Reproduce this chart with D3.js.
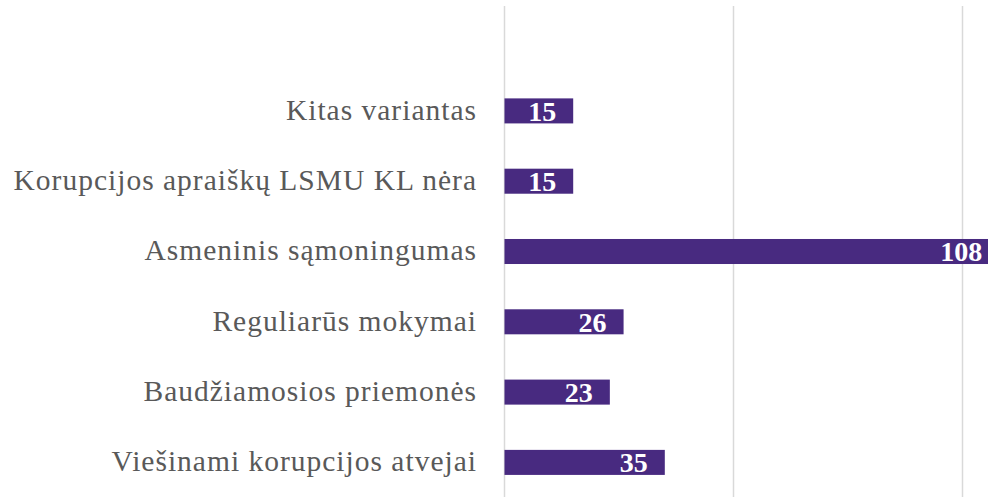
<!DOCTYPE html>
<html>
<head>
<meta charset="utf-8">
<script src="https://cdn.jsdelivr.net/npm/d3@7"></script>
<style>
	html, body { margin: 0; padding: 0; background: #fff; }
	svg { display: block; }
</style>
</head>
<body>
<div id="chart"></div>
<script>
// categories top to bottom
const categories = [
	'Kitas variantas',
	'Korupcijos apraiškų LSMU KL nėra',
	'Asmeninis sąmoningumas',
	'Reguliarūs mokymai',
	'Baudžiamosios priemonės',
	'Viešinami korupcijos atvejai'
];
const values = [15, 15, 108, 26, 23, 35];
const xTicks = [0, 50, 100];

const width = 988,
	height = 497;

const svg = d3.select('#chart')
	.append('svg')
	.attr('width', width)
	.attr('height', height);

// ----------------------------------
// SCALES
// ----------------------------------

const x = d3.scaleLinear()
	.domain([0, 100])
	.range([504.5, 962.5]);

const y = d3.scaleBand()
	.domain(categories)
	.range([75.75, 497.55])
	.paddingInner(0.644)
	.paddingOuter(0.322);

// gridlines
svg.append('g')
	.attr('class', 'grid')
	.selectAll('line')
	.data(xTicks)
	.enter()
	.append('line')
	.attr('x1', d => x(d))
	.attr('x2', d => x(d))
	.attr('y1', 6)
	.attr('y2', height)
	.attr('stroke', '#d9d9d9')
	.attr('stroke-width', 1.5);

// ----------------------------------
// BARS
// ----------------------------------

const data = categories.map((c, i) => ({ x: c, y: values[i] }));

const row = svg.append('g')
	.selectAll('g')
	.data(data)
	.enter()
	.append('g')
	.attr('transform', d => `translate(0,${y(d.x)})`);

row.append('rect')
	.attr('x', x(0))
	.attr('y', 0)
	.attr('width', d => x(d.y) - x(0))
	.attr('height', y.bandwidth())
	.attr('fill', '#482a80');

row.append('text')
	.attr('x', d => x(d.y) - 17)
	.attr('y', y.bandwidth() / 2)
	.attr('dy', '0.35em')
	.attr('text-anchor', 'end')
	.style('font-family', '"Liberation Serif", serif')
	.style('font-weight', 'bold')
	.style('font-size', '28px')
	.style('fill', '#fff')
	.text(d => d.y);

// category labels
row.append('text')
	.attr('x', 477)
	.attr('y', y.bandwidth() / 2)
	.attr('dy', '0.3em')
	.attr('text-anchor', 'end')
	.style('font-family', '"Liberation Serif", serif')
	.style('font-size', '29.5px')
	.style('letter-spacing', '1px')
	.style('fill', '#595959')
	.text(d => d.x);
</script>
</body>
</html>
